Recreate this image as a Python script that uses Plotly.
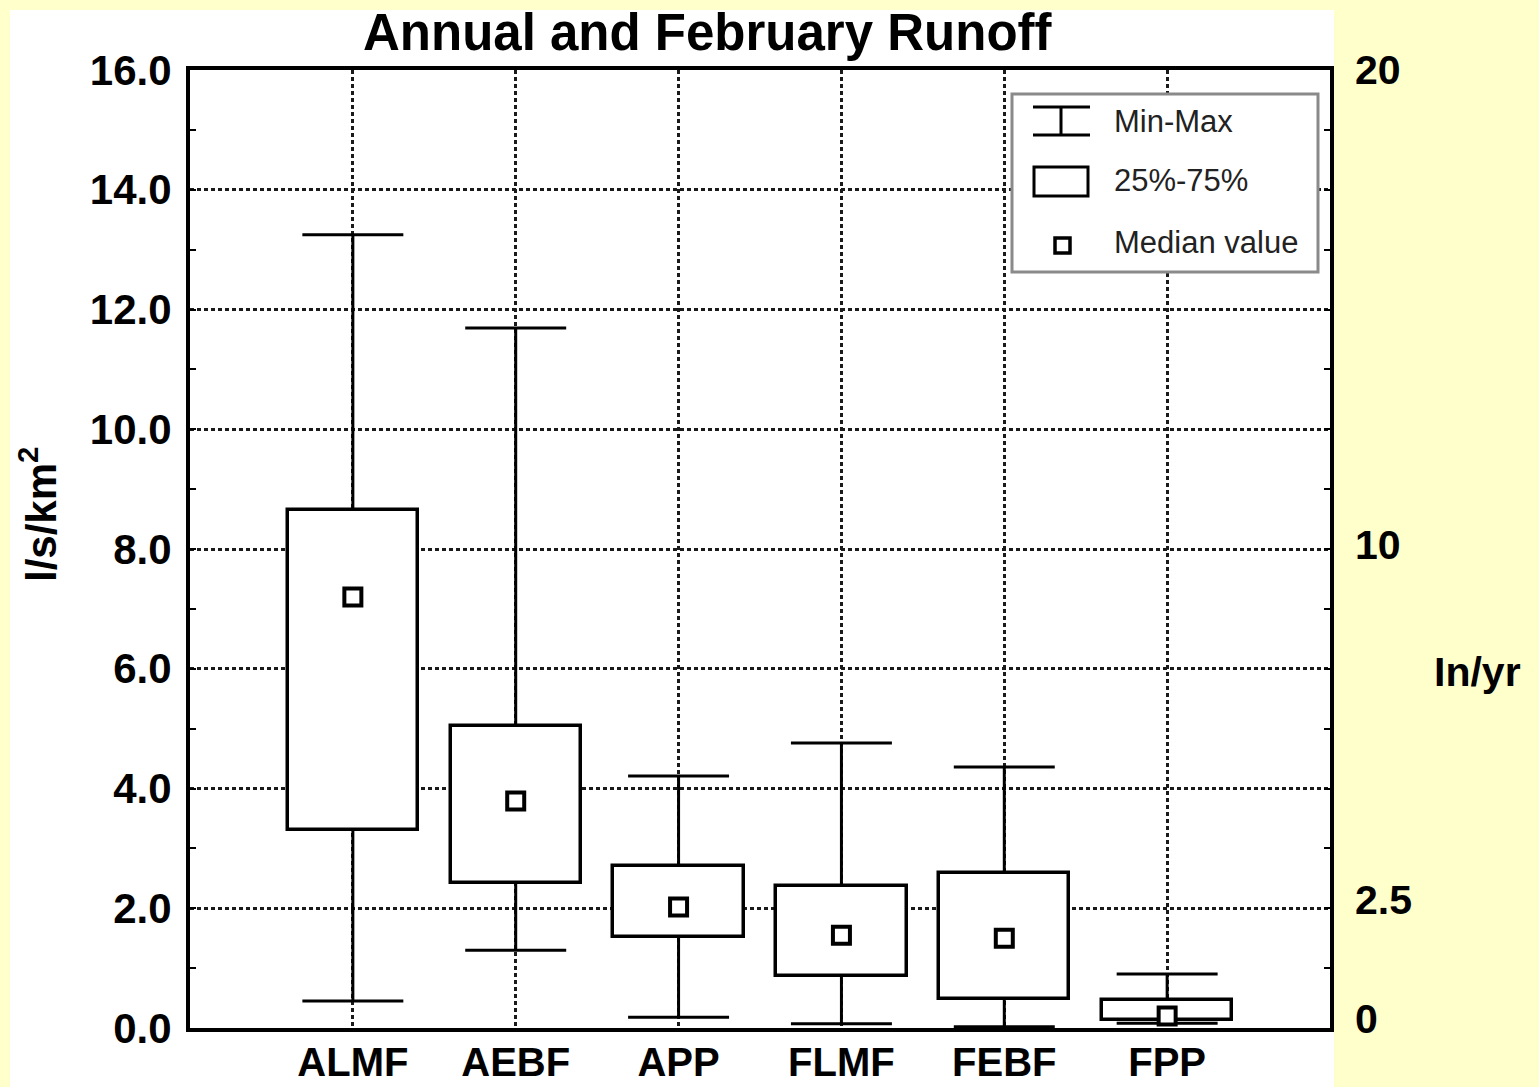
import plotly.graph_objects as go

# ---------------- data ----------------
categories = ["ALMF", "AEBF", "APP", "FLMF", "FEBF", "FPP"]
v_min    = [0.45, 1.30, 0.18, 0.07, 0.02, 0.08]
v_q1     = [3.30, 2.42, 1.52, 0.87, 0.48, 0.13]
v_median = [7.20, 3.79, 2.02, 1.55, 1.50, 0.20]
v_q3     = [8.65, 5.04, 2.70, 2.37, 2.59, 0.47]
v_max    = [13.25, 11.69, 4.21, 4.76, 4.36, 0.90]

y_ticks = [0, 2, 4, 6, 8, 10, 12, 14, 16]
inyr_ticks = [0, 2.5, 10, 20]
inyr_labels = ["0", "2.5", "10", "20"]

legend_labels = ["Min-Max", "25%-75%", "Median value"]

# ---------------- style ----------------
W, H = 1539, 1087
L, R, T, B = 190, 1330, 70, 1028
BG = "#FFFFCC"
FONT = "Liberation Sans, Arial, sans-serif"
CAP = 0.31
BOXW = 0.8
GRID = "#1a1a1a"


def px(xp):
    return (xp - L) / (R - L)


def py(yp):
    return (B - yp) / (B - T)


xs = list(range(len(categories)))

fig = go.Figure()

# whiskers (vertical parts, outside the boxes) and caps
wx, wy = [], []
for i in xs:
    wx += [i, i, None, i, i, None]
    wy += [v_min[i], v_q1[i], None, v_q3[i], v_max[i], None]
    wx += [i - CAP, i + CAP, None, i - CAP, i + CAP, None]
    wy += [v_min[i], v_min[i], None, v_max[i], v_max[i], None]
fig.add_trace(go.Scatter(x=wx, y=wy, mode="lines",
                         line=dict(color="black", width=3),
                         hoverinfo="skip", showlegend=False, cliponaxis=False))

# boxes 25%-75%
fig.add_trace(go.Bar(x=xs, y=[q3 - q1 for q1, q3 in zip(v_q1, v_q3)], base=v_q1,
                     width=BOXW,
                     marker=dict(color="white", line=dict(color="black", width=3.5)),
                     hoverinfo="skip", showlegend=False))

# medians
fig.add_trace(go.Scatter(x=xs, y=v_median, mode="markers",
                         marker=dict(symbol="square", size=17, color="white",
                                     line=dict(color="black", width=4)),
                         hoverinfo="skip", showlegend=False, cliponaxis=False))

# invisible trace to anchor the right (in/yr) axis
fig.add_trace(go.Scatter(x=[0], y=[0], yaxis="y2", mode="markers",
                         marker=dict(opacity=0, size=1), hoverinfo="skip", showlegend=False))

shapes = []
# white panel
shapes.append(dict(type="rect", xref="paper", yref="paper",
                   x0=px(10), x1=px(1334), y0=py(1090), y1=py(10),
                   fillcolor="white", line=dict(width=0), layer="below"))
# legend frame
shapes.append(dict(type="rect", xref="paper", yref="paper",
                   x0=px(1012), x1=px(1318), y0=py(272), y1=py(94),
                   fillcolor="white", line=dict(color="#8a8a8a", width=3), layer="above"))
# legend: min-max icon
for (x0, y0, x1, y1) in [(1033, 107, 1090, 107), (1033, 135, 1090, 135), (1061, 107, 1061, 135)]:
    shapes.append(dict(type="line", xref="paper", yref="paper",
                       x0=px(x0), x1=px(x1), y0=py(y0), y1=py(y1),
                       line=dict(color="black", width=3), layer="above"))
# legend: box icon
shapes.append(dict(type="rect", xref="paper", yref="paper",
                   x0=px(1034), x1=px(1088), y0=py(196), y1=py(167),
                   fillcolor="white", line=dict(color="black", width=3), layer="above"))
# legend: median icon
shapes.append(dict(type="rect", xref="paper", yref="paper",
                   x0=px(1055), x1=px(1070), y0=py(253), y1=py(238),
                   fillcolor="white", line=dict(color="black", width=3.5), layer="above"))

annotations = []
# title
annotations.append(dict(text="Annual and February Runoff", xref="paper", yref="paper",
                        x=px(708), y=py(32), xanchor="center", yanchor="middle",
                        showarrow=False,
                        font=dict(family=FONT, size=51, color="black", weight="bold")))
# y-axis title
annotations.append(dict(text="l/s/km<sup>2</sup>", xref="paper", yref="paper",
                        x=px(38), y=py(515), xanchor="center", yanchor="middle",
                        textangle=-90, showarrow=False,
                        font=dict(family=FONT, size=42, color="black", weight="bold")))
# right unit label
annotations.append(dict(text="In/yr", xref="paper", yref="paper",
                        x=px(1432), y=py(672), xanchor="left", yanchor="middle",
                        showarrow=False,
                        font=dict(family=FONT, size=41, color="black", weight="bold")))
# legend labels
for lab, yc in zip(legend_labels, [121, 181, 242]):
    annotations.append(dict(text=lab, xref="paper", yref="paper",
                            x=px(1112), y=py(yc), xanchor="left", yanchor="middle",
                            showarrow=False,
                            font=dict(family=FONT, size=31, color="#222222")))

fig.update_layout(
    width=W, height=H,
    margin=dict(l=L, r=W - R, t=T, b=H - B, autoexpand=False),
    paper_bgcolor=BG, plot_bgcolor="white",
    showlegend=False, bargap=0,
    shapes=shapes, annotations=annotations,
    xaxis=dict(range=[-1, 6], tickvals=xs, ticktext=categories,
               showgrid=True, gridcolor=GRID, gridwidth=2.5, griddash="4px,3px",
               showline=True, linecolor="black", linewidth=4, mirror=True,
               ticks="", zeroline=False, ticklabelstandoff=-4,
               tickfont=dict(family=FONT, size=40, color="black", weight="bold")),
    yaxis=dict(range=[0, 16], tickvals=y_ticks, tickformat=".1f",
               showgrid=True, gridcolor=GRID, gridwidth=2.5, griddash="4px,3px",
               showline=True, linecolor="black", linewidth=4, mirror="ticks",
               ticks="inside", ticklen=6, tickwidth=2, tickcolor="black",
               minor=dict(dtick=1, ticks="inside", ticklen=6, tickwidth=2, tickcolor="black",
                          showgrid=False),
               zeroline=False, ticklabelstandoff=6,
               tickfont=dict(family=FONT, size=42, color="black", weight="bold")),
    yaxis2=dict(overlaying="y", side="right", range=[-0.2, 20],
                tickvals=inyr_ticks, ticktext=inyr_labels,
                showgrid=False, showline=False, zeroline=False, ticks="",
                ticklabelstandoff=24,
                tickfont=dict(family=FONT, size=41, color="black", weight="bold")),
)

fig.write_html("out.html", config={"displayModeBar": False},
               post_script="document.body.style.margin='0';document.body.style.overflow='hidden';")
